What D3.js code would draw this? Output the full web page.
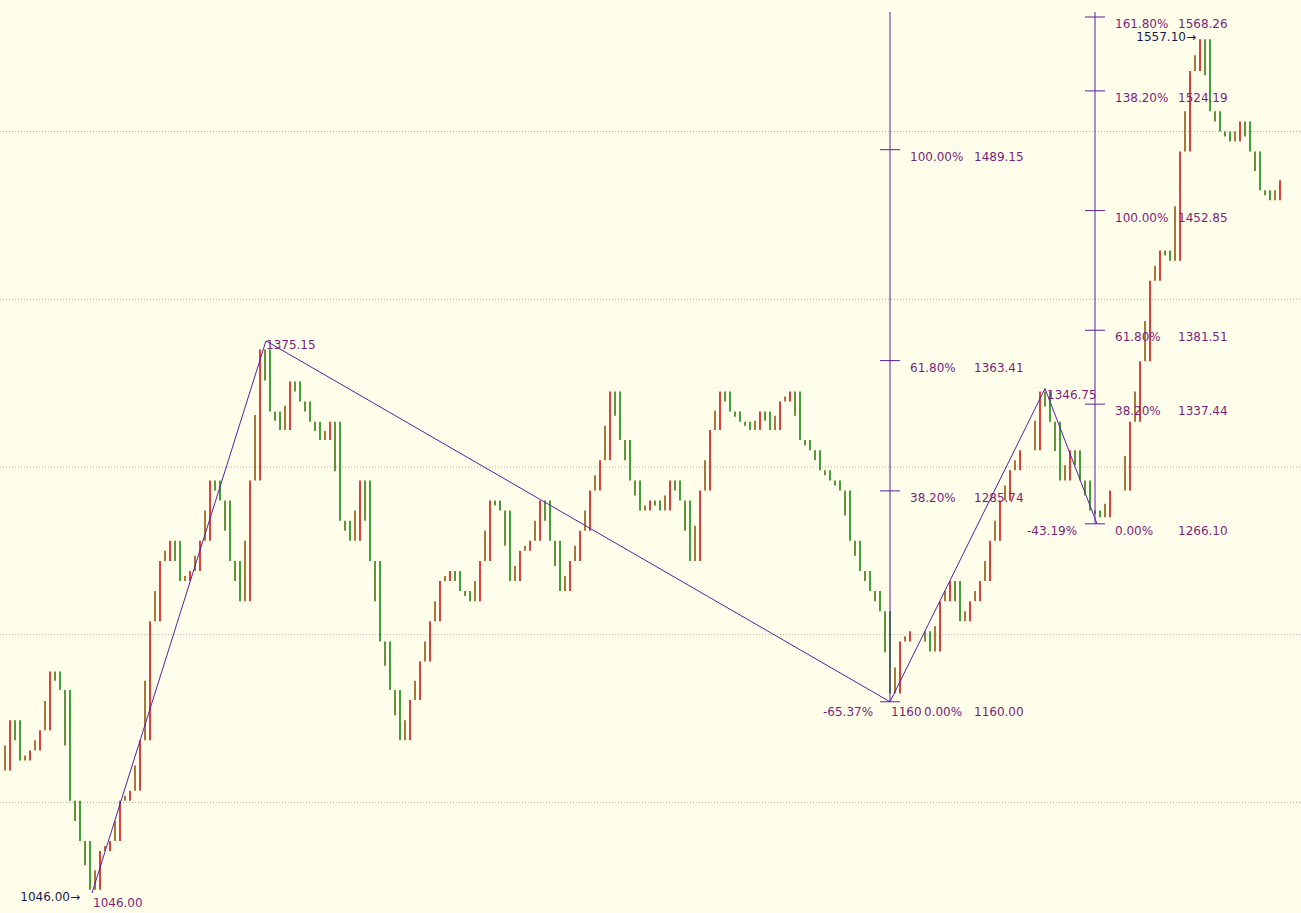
<!DOCTYPE html>
<html><head><meta charset="utf-8">
<script src="https://cdn.jsdelivr.net/npm/d3@7"></script>
<style>body{margin:0;background:#fffeea;}svg{display:block;}</style>
</head><body><svg id="c" width="1301" height="913"></svg>
<script>
const closes=[1119,1149,1125,1131,1143,1178,1167,1101,1077,1048,1071,1077,1101,1107,1137,1208,1244,1256,1232,1238,
1256,1292,1280,1244,1220,1292,1370,1333,1322,1351,1339,1327,1316,1327,1268,1256,1292,1244,1196,1167,
1137,1161,1184,1208,1232,1238,1226,1220,1244,1280,1274,1232,1250,1256,1280,1256,1226,1244,1262,1286,
1304,1345,1316,1292,1274,1280,1274,1292,1280,1244,1286,1322,1345,1333,1327,1322,1333,1322,1339,1345,
1316,1310,1298,1292,1286,1256,1238,1226,1214,1165,1196,1202,1202,1190,1220,1232,1208,1220,1232,1256,
1280,1298,1310,1310,1345,1327,1292,1310,1292,1274,1270,1286,1286,1327,1363,1411,1429,1423,1488,1536,
1555,1512,1500,1494,1506,1488,1465,1459,1471];
const gridLevels=[1100,1200,1300,1400,1500];
const zigzag=[{i:9.2,p:1046},{i:26.6,p:1375.15},{i:89,p:1160},{i:104.5,p:1346.75},{i:109.7,p:1266.10}];
const fib1Pct=["100.00%","61.80%","38.20%","0.00%"];
const fib1Val=[1489.15,1363.41,1285.74,1160.00];
const fib2Pct=["161.80%","138.20%","100.00%","61.80%","38.20%","0.00%"];
const fib2Val=[1568.26,1524.19,1452.85,1381.51,1337.44,1266.10];

const svg=d3.select("#c");
const x=d3.scaleLinear().domain([0,128]).range([0,1280]);
const y=d3.scaleLinear().domain([1046,1568.26]).range([893,17]);
const purple="#5a1fa0", txt="#7b1f7b", font="DejaVu Sans";
svg.append("rect").attr("width",1301).attr("height",913).attr("fill","#fffeea");
svg.selectAll(".g").data(gridLevels).join("line").attr("x1",0).attr("x2",1301)
 .attr("y1",d=>y(d)).attr("y2",d=>y(d)).attr("stroke","#b0b0a0").attr("stroke-dasharray","1,2");
const bars=closes.slice(1).map((c,k)=>({i:k+1,o:closes[k],c}));
svg.selectAll(".b").data(bars).join("line")
 .attr("x1",d=>x(d.i)).attr("x2",d=>x(d.i))
 .attr("y1",d=>y(d.o)).attr("y2",d=>y(d.c))
 .attr("stroke",d=>d.c>=d.o?"#d00000":"#008000").attr("stroke-width",1.5);
svg.selectAll(".b2").data(bars).join("line")
 .attr("x1",d=>x(d.i-0.5)).attr("x2",d=>x(d.i-0.5))
 .attr("y1",d=>y(d.o)).attr("y2",d=>y((d.o+d.c)/2))
 .attr("stroke",d=>d.c>=d.o?"#8b4a00":"#2f6f00").attr("stroke-width",1.5);
svg.append("path").attr("d",d3.line().x(d=>x(d.i)).y(d=>y(d.p))(zigzag))
 .attr("fill","none").attr("stroke",purple).attr("stroke-width",1);
const f1x=x(89);
svg.append("line").attr("x1",f1x).attr("x2",f1x).attr("y1",12).attr("y2",y(1160)).attr("stroke",purple);
svg.selectAll(".t1").data(fib1Val).join("line").attr("x1",f1x-10).attr("x2",f1x+10)
 .attr("y1",d=>y(d)).attr("y2",d=>y(d)).attr("stroke",purple);
const T=(xx,yy,s,col,anchor)=>svg.append("text").attr("x",xx).attr("y",yy).text(s)
 .attr("font-family",font).attr("font-size",12).attr("fill",col||txt).attr("text-anchor",anchor||"start");
fib1Val.forEach((v,k)=>{T(f1x+(k==3?34:20),y(v)+11+(k==3?3:0),fib1Pct[k]);T(f1x+84,y(v)+11+(k==3?3:0),v.toFixed(2));});
const f2x=x(109.5);
svg.append("line").attr("x1",f2x).attr("x2",f2x).attr("y1",12).attr("y2",y(1266.1)).attr("stroke",purple);
svg.selectAll(".t2").data(fib2Val).join("line").attr("x1",f2x-10).attr("x2",f2x+10)
 .attr("y1",d=>y(d)).attr("y2",d=>y(d)).attr("stroke",purple);
fib2Val.forEach((v,k)=>{T(f2x+20,y(v)+11,fib2Pct[k]);T(f2x+83,y(v)+11,v.toFixed(2));});
T(f1x+1,y(1160)+14,"1160");
T(f1x-67,y(1160)+14,"-65.37%");
T(f2x-68,y(1266.1)+11,"-43.19%");
T(x(26.6),y(1375.15)+8,"1375.15");
T(x(104.5)+2,y(1346.75)+10,"1346.75");
T(x(9.2)+1,y(1046)+14,"1046.00");
T(x(9.2)-12,y(1046)+8,"1046.00→","#1a1a4a","end");
T(1196,y(1557.1)+5,"1557.10→","#1a1a4a","end");
</script></body></html>
